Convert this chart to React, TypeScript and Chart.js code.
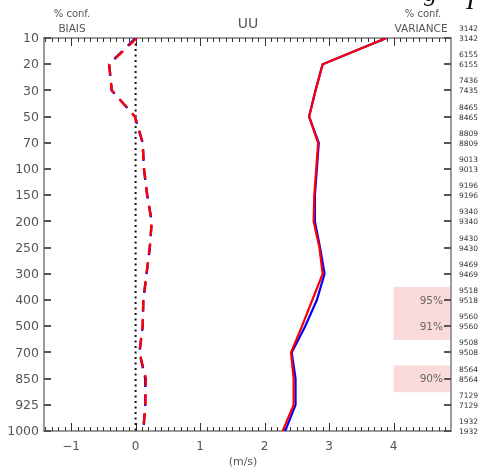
import React, { useEffect, useRef } from 'react';
import { Chart, registerables } from 'chart.js';

Chart.register(...registerables);

// Pressure levels (hPa), top to bottom
const levels = ['10', '20', '30', '50', '70', '100', '150', '200', '250', '300', '400', '500', '700', '850', '925', '1000'];
// Observation counts shown on the right (two lines per level)
const countsTop = ['3142', '6155', '7436', '8465', '8809', '9013', '9196', '9340', '9430', '9469', '9518', '9560', '9508', '8564', '7129', '1932'];
const countsBottom = ['3142', '6155', '7435', '8465', '8809', '9013', '9196', '9340', '9430', '9469', '9518', '9560', '9508', '8564', '7129', '1932'];

// Bias (dashed) and standard deviation (solid), red and blue experiments
const biasRed = [0.02, -0.41, -0.37, -0.01, 0.11, 0.13, 0.18, 0.25, 0.22, 0.17, 0.12, 0.11, 0.06, 0.16, 0.15, 0.12];
const biasBlue = [0.0, -0.41, -0.37, -0.01, 0.11, 0.13, 0.18, 0.25, 0.22, 0.17, 0.12, 0.11, 0.06, 0.15, 0.15, 0.12];
const stdRed = [3.89, 2.9, 2.79, 2.69, 2.83, 2.8, 2.77, 2.76, 2.85, 2.9, 2.74, 2.58, 2.41, 2.45, 2.45, 2.28];
const stdBlue = [3.89, 2.9, 2.79, 2.69, 2.84, 2.81, 2.78, 2.78, 2.86, 2.93, 2.81, 2.63, 2.42, 2.48, 2.48, 2.32];

const xTickValues = [-1, 0, 1, 2, 3, 4];
const xMin = -1.42;
const xMax = 4.89;

// Variance confidence boxes
const confLevels = ['400', '500', '850'];
const confLabels = ['95%', '91%', '90%'];
const confBoxStart = 4.0;

const AXIS = '#9c9c9c';
const TICK = '#333333';
const TEXT = '#555555';
const FONT = '"DejaVu Sans", sans-serif';

const toPoints = (vals: number[]) => vals.map((v, i) => ({ x: v, y: i }));

const deco = {
  id: 'deco',
  beforeDraw(chart: any) {
    const { ctx, width, height } = chart;
    ctx.save();
    ctx.globalCompositeOperation = 'source-over';
    ctx.fillStyle = '#ffffff';
    ctx.fillRect(0, 0, width, height);
    ctx.restore();
  },
  beforeDatasetsDraw(chart: any) {
    const { ctx, chartArea: a, scales } = chart;
    const x = scales.x;
    const y = scales.y;
    ctx.save();
    ctx.globalCompositeOperation = 'source-over';
    ctx.globalAlpha = 1;
    // confidence boxes
    ctx.fillStyle = '#fbdada';
    confLevels.forEach((l) => {
      const i = levels.indexOf(l);
      const y0 = y.getPixelForValue(i - 0.5);
      const y1 = y.getPixelForValue(i + 0.52);
      const x0 = x.getPixelForValue(confBoxStart);
      ctx.fillRect(x0, y0, a.right - x0, y1 - y0);
    });

    // frame
    ctx.fillStyle = AXIS;
    ctx.fillRect(a.left - 1, a.top - 1, a.right - a.left + 2, 2);
    ctx.fillRect(a.left - 1, a.bottom - 1, a.right - a.left + 2, 2);
    ctx.fillRect(a.left - 1, a.top - 1, 2, a.bottom - a.top + 2);
    ctx.fillRect(a.right - 1, a.top - 1, 2, a.bottom - a.top + 2);

    // x minor / major ticks (inward, top and bottom)
    ctx.fillStyle = TICK;
    const kStart = Math.ceil(xMin * 10);
    const kEnd = Math.floor(xMax * 10);
    for (let k = kStart; k <= kEnd; k++) {
      const px = Math.round(x.getPixelForValue(k / 10));
      const len = k % 10 === 0 ? 8 : 4;
      ctx.fillRect(px, a.bottom - len, 1, len);
      ctx.fillRect(px, a.top, 1, len);
    }
    // y ticks (inward, left and right)
    ctx.fillStyle = '#555555';
    levels.forEach((_, i) => {
      const py = Math.round(y.getPixelForValue(i));
      ctx.fillRect(a.left, py - 1, 7, 2);
      ctx.fillRect(a.right - 7, py - 1, 7, 2);
    });
    ctx.restore();
  },
  afterDraw(chart: any) {
    const { ctx, chartArea: a, scales } = chart;
    const x = scales.x;
    const y = scales.y;
    ctx.save();

    // left level labels
    ctx.fillStyle = TEXT;
    ctx.font = `12.5px ${FONT}`;
    ctx.textAlign = 'right';
    ctx.textBaseline = 'middle';
    levels.forEach((l, i) => {
      ctx.fillText(l, a.left - 5, y.getPixelForValue(i) + 1);
    });

    // right counts
    ctx.fillStyle = '#333333';
    ctx.font = `7.5px ${FONT}`;
    ctx.textAlign = 'left';
    levels.forEach((_, i) => {
      const py = y.getPixelForValue(i);
      ctx.fillText(countsTop[i], a.right + 8, py - 9);
      ctx.fillText(countsBottom[i], a.right + 8, py + 1);
    });

    // confidence labels
    ctx.fillStyle = '#666666';
    ctx.font = `10.5px ${FONT}`;
    ctx.textAlign = 'right';
    confLevels.forEach((l, j) => {
      const i = levels.indexOf(l);
      ctx.fillText(confLabels[j], a.right - 8, y.getPixelForValue(i) + 1);
    });

    // x tick labels
    ctx.fillStyle = TEXT;
    ctx.font = `12px ${FONT}`;
    ctx.textAlign = 'center';
    xTickValues.forEach((v) => {
      const lbl = v < 0 ? '\u2212' + Math.abs(v) : String(v);
      ctx.fillText(lbl, x.getPixelForValue(v), a.bottom + 16);
    });
    ctx.font = `11px ${FONT}`;
    ctx.fillText('(m/s)', 243, a.bottom + 31);

    // header texts
    ctx.font = `14px ${FONT}`;
    ctx.fillText('UU', 248, 24);
    ctx.font = `10px ${FONT}`;
    ctx.fillText('% conf.', 72, 14);
    ctx.fillText('% conf.', 423, 14);
    ctx.font = `10.5px ${FONT}`;
    ctx.fillText('BIAIS', 72, 29);
    ctx.fillText('VARIANCE', 421, 29);

    // cropped title glyphs at the top right
    ctx.fillStyle = '#111111';
    ctx.font = `italic 26px "Liberation Serif", serif`;
    ctx.textAlign = 'left';
    ctx.textBaseline = 'alphabetic';
    ctx.fillText('g', 424, 1);
    ctx.fillText('I', 466, 9);
    ctx.restore();
  },
};

export default function App() {
  const ref = useRef<HTMLCanvasElement | null>(null);
  useEffect(() => {
    if (!ref.current) return;
    const chart = new Chart(ref.current, {
      type: 'scatter',
      data: {
        datasets: [
          {
            data: toPoints(stdRed),
            showLine: true,
            borderColor: '#ff0000',
            borderWidth: 2.2,
            pointRadius: 0,
            order: 0,
          },
          {
            data: toPoints(biasRed),
            showLine: true,
            borderColor: '#ff0000',
            borderWidth: 2.4,
            borderDash: [11, 8],
            pointRadius: 0,
            order: 1,
          },
          {
            data: toPoints(stdBlue),
            showLine: true,
            borderColor: '#0000ff',
            borderWidth: 2.2,
            pointRadius: 0,
            order: 2,
          },
          {
            data: toPoints(biasBlue),
            showLine: true,
            borderColor: '#0000ff',
            borderWidth: 2.4,
            borderDash: [11, 8],
            pointRadius: 0,
            order: 3,
          },
          {
            data: [
              { x: 0, y: 0 },
              { x: 0, y: levels.length - 1 },
            ],
            showLine: true,
            borderColor: '#111111',
            borderWidth: 2,
            borderDash: [2, 3.5],
            pointRadius: 0,
            order: 4,
          },
        ],
      },
      options: {
        responsive: false,
        animation: false,
        devicePixelRatio: 1,
        layout: { padding: { left: 44, right: 34, top: 38, bottom: 41 } },
        plugins: { legend: { display: false }, tooltip: { enabled: false } },
        scales: {
          x: { type: 'linear', min: xMin, max: xMax, display: false },
          y: { type: 'linear', min: 0, max: levels.length - 1, reverse: true, display: false },
        },
      },
      plugins: [deco],
    });
    return () => chart.destroy();
  }, []);
  return (
    <div style={{ position: 'fixed', left: 0, top: 0, width: 485, height: 472, background: '#fff' }}>
      <canvas ref={ref} width={485} height={472} />
    </div>
  );
}
